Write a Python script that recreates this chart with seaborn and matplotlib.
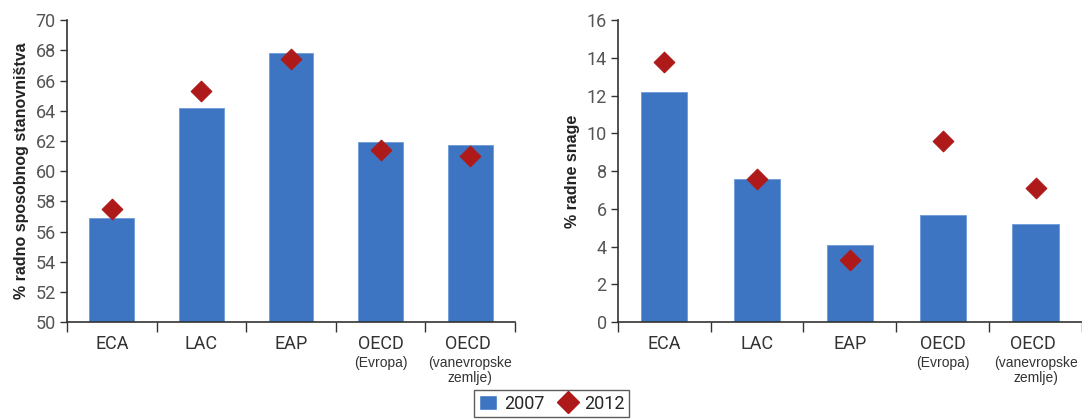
import matplotlib
matplotlib.use("Agg")
import matplotlib.pyplot as plt
import seaborn as sns
import pandas as pd
import numpy as np
from matplotlib.lines import Line2D
from matplotlib.patches import Patch

# data
regions = ["ECA", "LAC", "EAP", "OECD", "OECD "]
sub_labels = ["", "", "", "(Evropa)", "(vanevropske\nzemlje)"]
emp_2007 = [56.9, 64.2, 67.8, 61.9, 61.7]
emp_2012 = [57.5, 65.3, 67.4, 61.4, 61.0]
unemp_2007 = [12.2, 7.6, 4.1, 5.7, 5.2]
unemp_2012 = [13.8, 7.6, 3.3, 9.6, 7.1]

bar_color = "#3E75C3"
dia_color = "#AE1A1A"

sns.set_style("white")
plt.rcParams["font.family"] = ["Roboto", "DejaVu Sans"]

fig = plt.figure(figsize=(10.82, 4.19), dpi=100)
ax1 = fig.add_axes([0.062, 0.231, 0.414, 0.721])
ax2 = fig.add_axes([0.571, 0.231, 0.429, 0.721])


def draw(ax, v07, v12, ylim, step, ylabel):
    df = pd.DataFrame({"region": regions, "v07": v07, "v12": v12})
    sns.barplot(data=df, x="region", y="v07", color=bar_color, width=0.5,
                saturation=1, ax=ax, edgecolor="#6E9BD8", linewidth=0.6)
    sns.scatterplot(data=df, x="region", y="v12", marker="D", s=110,
                    color=dia_color, edgecolor=dia_color, ax=ax, zorder=5)
    ax.set_ylim(*ylim)
    ax.set_xlim(-0.5, 4.5)
    ax.set_yticks(np.arange(ylim[0], ylim[1] + 0.1, step))
    ax.set_xticks(np.arange(-0.5, 5, 1))
    ax.set_xticklabels([])
    ax.set_xticks(range(5), minor=True)
    ax.set_xticklabels(regions, minor=True, fontsize=13, color="#333333")
    ax.tick_params(axis="x", which="major", length=7, width=1, color="#333333",
                   direction="out", bottom=True)
    ax.tick_params(axis="x", which="minor", length=0, pad=9)
    ax.tick_params(axis="y", length=5, width=1, color="#333333", direction="out",
                   left=True, labelsize=13, labelcolor="#555555", pad=3)
    for i, s in enumerate(sub_labels):
        if s:
            ax.text(i, -0.112, s, transform=ax.get_xaxis_transform(), ha="center",
                    va="top", fontsize=10, color="#333333",
                    family=["Liberation Sans", "DejaVu Sans"], linespacing=1.1)
    ax.set_xlabel("")
    ax.set_ylabel(ylabel, fontsize=11.5, fontweight="bold", color="#222222",
                  family=["Liberation Sans", "DejaVu Sans"], labelpad=5)
    for sp in ["top", "right"]:
        ax.spines[sp].set_visible(False)
    for sp in ["left", "bottom"]:
        ax.spines[sp].set_color("#333333")
        ax.spines[sp].set_linewidth(1.2)


draw(ax1, emp_2007, emp_2012, (50, 70), 2, "% radno sposobnog stanovništva")
draw(ax2, unemp_2007, unemp_2012, (0, 16), 2, "% radne snage")

handles = [Patch(facecolor=bar_color, label="2007"),
           Line2D([], [], marker="D", color=dia_color, linestyle="none",
                  markersize=11, label="2012")]
fig.legend(handles=handles, loc="lower center", bbox_to_anchor=(0.51, 0.0),
           ncol=2, frameon=True, fancybox=False, edgecolor="#333333",
           fontsize=13, handlelength=1.0, handleheight=0.9, columnspacing=0.8,
           handletextpad=0.4, borderpad=0.25, borderaxespad=0.1)

fig.savefig("out.png", dpi=100)
